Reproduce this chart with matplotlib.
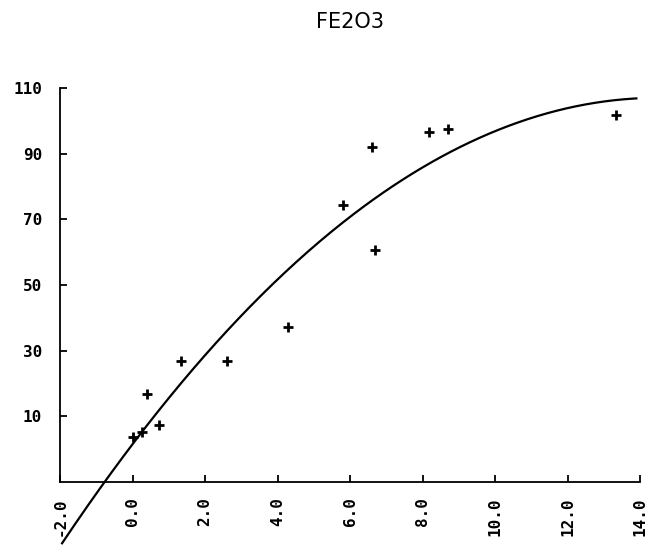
import numpy as np
import matplotlib
matplotlib.use("Agg")
import matplotlib.pyplot as plt

# --- data ---
x_pts = [0.0, 0.25, 0.39, 0.72, 1.35, 2.62, 4.28, 5.82, 6.62, 6.70, 8.19, 8.69, 13.35]
y_pts = [3.7, 5.2, 16.8, 7.3, 26.8, 26.8, 37.3, 74.5, 91.9, 60.8, 96.5, 97.4, 101.7]

# fitted quadratic as drawn (c0 + c1*x + c2*x^2), and the x span it covers
fit_coef = [1.5, 14.55, -0.5016]
fit_span = [-1.96, 13.93]

x_ticks = [-2.0, 0.0, 2.0, 4.0, 6.0, 8.0, 10.0, 12.0, 14.0]
y_ticks = [10, 30, 50, 70, 90, 110]
title = "FE2O3"

mono = "DejaVu Sans Mono"

fig = plt.figure(figsize=(6.51, 5.5), dpi=100)
ax = fig.add_axes([60 / 651, 68 / 550, 580 / 651, 394 / 550])

# curve (runs past the bottom of the axes, like the plotter output)
xf = np.linspace(fit_span[0], fit_span[1], 300)
yf = np.polyval(fit_coef[::-1], xf)
ax.plot(xf, yf, color="black", lw=1.6, clip_on=False, solid_capstyle="butt")

ax.plot(x_pts, y_pts, linestyle="none", marker="+", markersize=7,
        markeredgewidth=2.0, color="black")

ax.set_xlim(-2, 14)
ax.set_ylim(-10, 110)

for side in ("top", "right"):
    ax.spines[side].set_visible(False)
for side in ("left", "bottom"):
    ax.spines[side].set_linewidth(1.3)
    ax.spines[side].set_color("black")

ax.set_xticks(x_ticks)
ax.set_xticklabels([f"{v:.1f}" for v in x_ticks], rotation=90,
                   fontfamily=mono, fontweight="bold", fontsize=11.5)
ax.set_yticks(y_ticks)
ax.set_yticklabels([str(v) for v in y_ticks],
                   fontfamily=mono, fontweight="bold", fontsize=11.5)

ax.tick_params(axis="x", direction="in", length=5, width=1.3, pad=11)
ax.tick_params(axis="y", direction="in", length=5, width=1.3, pad=13)

fig.text(350 / 651, 1 - 22 / 550, title, ha="center", va="center",
         fontsize=15, fontfamily="DejaVu Sans")

fig.savefig("out.png", dpi=100)
